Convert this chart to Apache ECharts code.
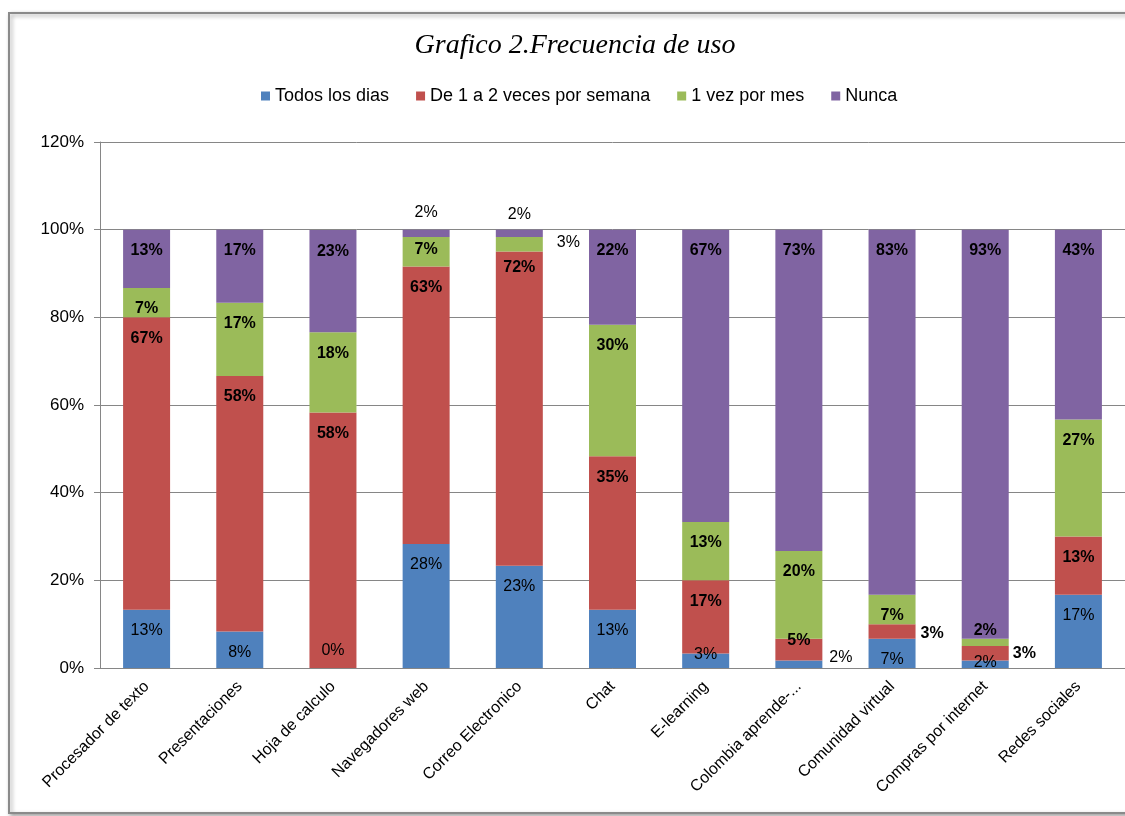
<!DOCTYPE html>
<html>
<head>
<meta charset="utf-8">
<script src="https://cdn.jsdelivr.net/npm/echarts@6/dist/echarts.min.js"></script>
<style>
  html, body { margin: 0; padding: 0; background: #fff; }
  #chart { width: 1125px; height: 816px; }
</style>
</head>
<body>
<div id="chart"></div>
<script>
    // categorias del eje x
    const categorias = ['Procesador de texto', 'Presentaciones', 'Hoja de calculo', 'Navegadores web',
        'Correo Electronico', 'Chat', 'E-learning', 'Colombia aprende-...', 'Comunidad virtual',
        'Compras por internet', 'Redes sociales']

    // porcentaje de encuestados por frecuencia
    const todosLosDias = [13.3, 8.3, 0, 28.3, 23.3, 13.3, 3.3, 1.7, 6.7, 1.7, 16.7]
    const unaADosSemana = [66.7, 58.3, 58.3, 63.3, 71.7, 35, 16.7, 5, 3.3, 3.3, 13.3]
    const unaVezMes = [6.7, 16.7, 18.3, 6.7, 3.3, 30, 13.3, 20, 6.7, 1.7, 26.7]
    const nunca = [13.3, 16.7, 23.3, 1.7, 1.7, 21.7, 66.7, 73.3, 83.3, 93.3, 43.3]

    const yTicks = [0, 20, 40, 60, 80, 100, 120]

    const FONT = '"Liberation Sans", Arial, sans-serif'

    // etiquetas movidas a mano en el original (serie -> indice -> label)
    const ajustes = {
        0: {
            2: {position: 'insideBottom', distance: 9},
            6: {position: 'inside', offset: [0, -6]},
            7: {position: 'right', distance: 7, offset: [0, -7]},
            9: {position: 'inside', offset: [0, -2]}
        },
        1: {
            4: {distance: 8},
            7: {position: 'inside', offset: [0, -9]},
            8: {position: 'right', distance: 5, offset: [0, 2]},
            9: {position: 'right', distance: 4}
        },
        2: {
            3: {position: 'inside', offset: [0, -2]},
            4: {position: 'right', distance: 14, offset: [0, -2], fontWeight: 'normal'},
            9: {position: 'top', distance: 0}
        },
        3: {
            3: {position: 'top', distance: 9, fontWeight: 'normal'},
            4: {position: 'top', distance: 7, fontWeight: 'normal'}
        }
    }

    function serie(name, values, color, idx, bold) {
        return {
            name: name,
            type: 'bar',
            stack: 'total',
            barWidth: 47,
            itemStyle: {color: color},
            label: {
                show: true,
                position: 'insideTop',
                distance: 13,
                color: '#000',
                fontFamily: FONT,
                fontSize: 16,
                fontWeight: bold ? 'bold' : 'normal',
                formatter: p => Math.round(p.value) + '%'
            },
            data: values.map((v, i) => {
                const a = (ajustes[idx] || {})[i]
                return a ? {value: v, label: a} : v
            })
        }
    }

    const chart = echarts.init(document.getElementById('chart'))
    chart.setOption({
        backgroundColor: '#fff',
        animation: false,
        graphic: [{
            type: 'rect',
            z: -10,
            shape: {x: 9, y: 13, width: 1140, height: 800},
            style: {fill: '#fff', stroke: '#8a8a8a', lineWidth: 2,
                shadowColor: 'rgba(0,0,0,0.35)', shadowBlur: 4, shadowOffsetX: 2, shadowOffsetY: 2}
        }],
        title: {
            text: 'Grafico 2.Frecuencia de uso',
            left: 570,
            textAlign: 'center',
            top: 27,
            textStyle: {fontFamily: '"Liberation Serif", serif', fontStyle: 'italic',
                fontWeight: 'normal', fontSize: 28, color: '#000'}
        },
        legend: {
            top: 82,
            left: 256,
            itemWidth: 9,
            itemHeight: 9,
            itemGap: 27,
            icon: 'rect',
            textStyle: {fontFamily: FONT, fontSize: 18, color: '#000'},
            data: ['Todos los dias', 'De 1 a 2 veces por semana', '1 vez por mes', 'Nunca']
        },
        grid: {left: 100, top: 142, width: 1031, height: 526, containLabel: false},
        xAxis: {
            type: 'category',
            data: categorias,
            axisLine: {lineStyle: {color: '#868686'}},
            axisTick: {length: 6, lineStyle: {color: '#868686'}},
            axisLabel: {rotate: 45, margin: 16, color: '#000', fontFamily: FONT, fontSize: 16, interval: 0}
        },
        yAxis: {
            type: 'value',
            min: yTicks[0],
            max: yTicks[yTicks.length - 1],
            interval: 20,
            axisLine: {show: true, lineStyle: {color: '#868686'}},
            axisTick: {show: true, length: 6, lineStyle: {color: '#868686'}},
            splitLine: {lineStyle: {color: '#868686'}},
            axisLabel: {formatter: '{value}%', margin: 16, color: '#000', fontFamily: FONT, fontSize: 17}
        },
        series: [
            serie('Todos los dias', todosLosDias, '#4F81BD', 0, false),
            serie('De 1 a 2 veces por semana', unaADosSemana, '#C0504D', 1, true),
            serie('1 vez por mes', unaVezMes, '#9BBB59', 2, true),
            serie('Nunca', nunca, '#8064A2', 3, true)
        ]
    })
</script>
</body>
</html>
